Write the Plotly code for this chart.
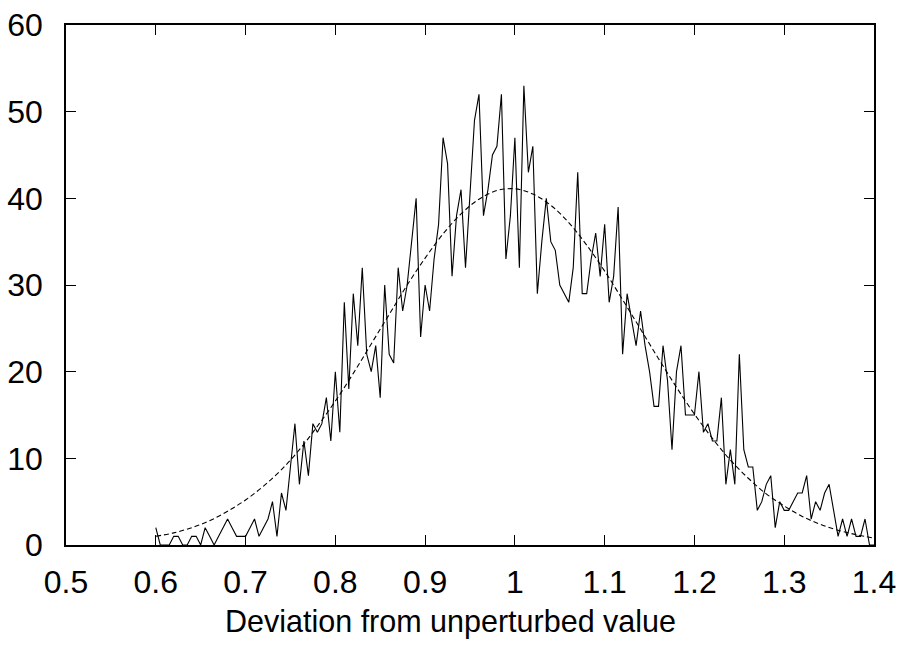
import plotly.graph_objects as go

# Histogram of deviations (x step 0.005 from 0.6 to 1.4)
x_start = 0.6
x_step = 0.005
counts = [
    2, 0, 0, 0, 1, 1, 0, 0, 1, 1,
    0, 2, 1, 0, 1, 2, 3, 2, 1, 1,
    1, 2, 3, 1, 2, 3, 5, 1, 6, 4,
    9, 14, 7, 12, 8, 14, 13, 14, 17, 12,
    20, 13, 28, 18, 29, 23, 32, 22, 20, 23,
    17, 30, 22, 21, 32, 27, 30, 35, 40, 24,
    30, 27, 33, 37, 47, 44, 31, 38, 41, 32,
    41, 49, 52, 38, 41, 45, 46, 52, 33, 38,
    47, 32, 53, 43, 46, 29, 35, 40, 35, 34,
    30, 29, 28, 32, 43, 29, 29, 33, 36, 31,
    37, 28, 31, 39, 22, 29, 26, 23, 27, 23,
    20, 16, 16, 23, 19, 11, 20, 23, 15, 15,
    15, 20, 13, 14, 12, 12, 17, 7, 11, 7,
    22, 11, 9, 9, 4, 5, 7, 8, 2, 5,
    4, 4, 5, 6, 6, 8, 3, 5, 4, 6,
    7, 4, 1, 3, 1, 3, 1, 1, 3, 0,
    0,
]
hist_x = [round(x_start + i * x_step, 4) for i in range(len(counts))]

# Fitted curve (dashed), every 0.02
fit_x = [0.60, 0.62, 0.64, 0.66, 0.68, 0.70, 0.72, 0.74, 0.76, 0.78,
         0.80, 0.82, 0.84, 0.86, 0.88, 0.90, 0.92, 0.94, 0.96, 0.98,
         1.00, 1.02, 1.04, 1.06, 1.08, 1.10, 1.12, 1.14, 1.16, 1.18,
         1.20, 1.22, 1.24, 1.26, 1.28, 1.30, 1.32, 1.34, 1.36, 1.38, 1.40]
fit_y = [1.0, 1.4, 2.0, 2.8, 3.9, 5.2, 6.8, 8.7, 11.0, 13.7,
         16.6, 19.8, 23.2, 26.6, 30.0, 33.1, 35.9, 38.2, 39.9, 40.9,
         41.1, 40.5, 39.2, 37.2, 34.6, 31.6, 28.3, 24.9, 21.5, 18.2,
         15.1, 12.3, 9.8, 7.7, 5.9, 4.5, 3.3, 2.4, 1.7, 1.2, 0.8]

x_ticks = [0.5, 0.6, 0.7, 0.8, 0.9, 1.0, 1.1, 1.2, 1.3, 1.4]
x_tick_text = ["0.5", "0.6", "0.7", "0.8", "0.9", "1", "1.1", "1.2", "1.3", "1.4"]
y_ticks = [0, 10, 20, 30, 40, 50, 60]
y_tick_text = ["0", "10", "20", "30", "40", "50", "60"]
x_title = "Deviation from unperturbed value"

font_family = "Liberation Sans, Arial, Helvetica, sans-serif"

fig = go.Figure()
fig.add_trace(go.Scatter(
    x=hist_x, y=counts, mode="lines",
    line=dict(color="black", width=1.1),
    showlegend=False, hoverinfo="skip",
))
fig.add_trace(go.Scatter(
    x=fit_x, y=fit_y, mode="lines",
    line=dict(color="black", width=1.1, dash="5px,3px", shape="spline"),
    showlegend=False, hoverinfo="skip",
))

axis_common = dict(
    showline=True, linecolor="black", linewidth=1.5, mirror="ticks",
    ticks="inside", ticklen=10, tickwidth=1.2, tickcolor="black",
    showgrid=False, zeroline=False, automargin=False,
    tickfont=dict(family=font_family, size=32, color="black"),
)

fig.update_layout(
    width=901, height=647,
    margin=dict(l=66, r=27, t=25, b=102),
    paper_bgcolor="white", plot_bgcolor="white",
    font=dict(family=font_family, color="black"),
    xaxis=dict(
        range=[0.5, 1.4], tickmode="array", tickvals=x_ticks, ticktext=x_tick_text,
        ticklabelstandoff=8,
        **axis_common,
    ),
    yaxis=dict(
        range=[0, 60], tickmode="array", tickvals=y_ticks, ticktext=y_tick_text,
        ticklabelstandoff=15,
        **axis_common,
    ),
    annotations=[dict(
        text=x_title, xref="paper", yref="paper",
        x=(450.5 - 66) / 808, y=-(621 - 545) / 520,
        xanchor="center", yanchor="middle", showarrow=False,
        font=dict(family=font_family, size=30.5, color="black"),
    )],
)

fig.write_html("out.html")
